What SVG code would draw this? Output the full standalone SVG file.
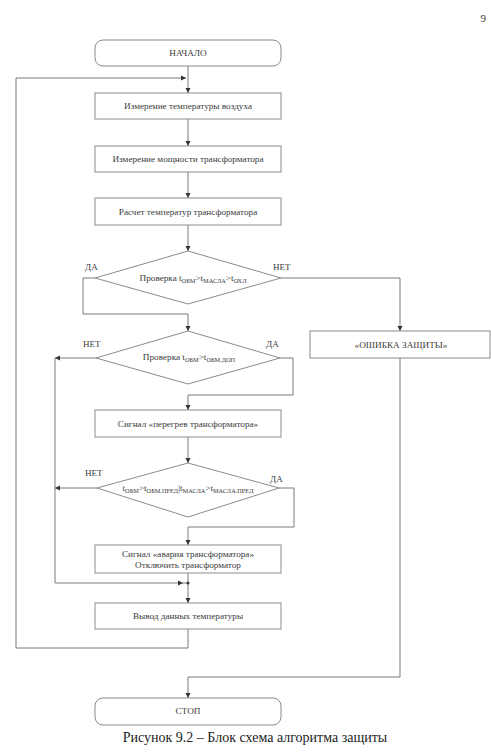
<svg xmlns="http://www.w3.org/2000/svg" width="491" height="753" viewBox="0 0 491 753">
<style>
.shape{fill:#fff;stroke:#8a8a8a;stroke-width:1}
.ln{fill:none;stroke:#7a7a7a;stroke-width:1}
.t{font-family:"Liberation Serif","Times New Roman",serif;font-size:9.2px;fill:#3a3a3a;text-anchor:middle}
.lbl{font-family:"Liberation Serif","Times New Roman",serif;font-size:9px;fill:#3a3a3a}
.s{font-size:6.3px}
</style>
<defs>
<marker id="ah" markerWidth="6" markerHeight="6" refX="5" refY="3" orient="auto" markerUnits="userSpaceOnUse">
<path d="M0,0.5 L5,3 L0,5.5 Z" fill="#333"/>
</marker>
</defs>
<rect width="491" height="753" fill="#fff"/>
<text x="486" y="22" class="lbl" style="font-size:11px;text-anchor:end">9</text>
<g id="connectors">
<line class="ln" x1="188" y1="66" x2="188" y2="93" marker-end="url(#ah)"/>
<line class="ln" x1="188" y1="119" x2="188" y2="146" marker-end="url(#ah)"/>
<line class="ln" x1="188" y1="172" x2="188" y2="198" marker-end="url(#ah)"/>
<line class="ln" x1="188" y1="225" x2="188" y2="251" marker-end="url(#ah)"/>
<polyline class="ln" points="95,278 83,278 83,314 188,314"/>
<line class="ln" x1="188" y1="314" x2="188" y2="331" marker-end="url(#ah)"/>
<polyline class="ln" points="281,278 400,278 400,331" marker-end="url(#ah)"/>
<polyline class="ln" points="400,358 400,677 188,677 188,698" marker-end="url(#ah)"/>
<polyline class="ln" points="280,358 293,358 293,395 188,395"/>
<line class="ln" x1="188" y1="395" x2="188" y2="410" marker-end="url(#ah)"/>
<line class="ln" x1="188" y1="437" x2="188" y2="463" marker-end="url(#ah)"/>
<polyline class="ln" points="279,488 294,488 294,527 188,527"/>
<line class="ln" x1="188" y1="527" x2="188" y2="545" marker-end="url(#ah)"/>
<line class="ln" x1="96" y1="358" x2="55" y2="358" marker-end="url(#ah)"/>
<line class="ln" x1="97" y1="488" x2="55" y2="488" marker-end="url(#ah)"/>
<line class="ln" x1="55" y1="358" x2="55" y2="583"/>
<line class="ln" x1="55" y1="583" x2="183" y2="583" marker-end="url(#ah)"/>
<line class="ln" x1="183" y1="583" x2="188" y2="583"/>
<line class="ln" x1="188" y1="573" x2="188" y2="603" marker-end="url(#ah)"/>
<circle cx="188" cy="583" r="1.5" fill="#333"/>
<polyline class="ln" points="188,629 188,648 16,648 16,78 186,78" marker-end="url(#ah)"/>
</g>
<g id="start">
<rect class="shape" x="95" y="40" width="186" height="26" rx="8"/>
<text class="t" x="188" y="56">НАЧАЛО</text>
</g>
<g id="measure-air">
<rect class="shape" x="95" y="93" width="186" height="26"/>
<text class="t" x="188" y="109">Измерение температуры воздуха</text>
</g>
<g id="measure-power">
<rect class="shape" x="95" y="146" width="186" height="26"/>
<text class="t" x="188" y="162">Измерение мощности трансформатора</text>
</g>
<g id="calc-temp">
<rect class="shape" x="95" y="198" width="186" height="27"/>
<text class="t" x="188" y="215">Расчет температур трансформатора</text>
</g>
<g id="check1">
<polygon class="shape" points="188,251 281,278 188,304 95,278"/>
<text class="t" x="193" y="281">Проверка t<tspan class="s" dy="2">ОБМ</tspan><tspan dy="-2">&gt;t</tspan><tspan class="s" dy="2">МАСЛА</tspan><tspan dy="-2">&gt;t</tspan><tspan class="s" dy="2">ОХЛ</tspan></text>
<text class="lbl" x="85" y="270">ДА</text>
<text class="lbl" x="273" y="270">НЕТ</text>
</g>
<g id="error">
<rect class="shape" x="310" y="331" width="180" height="27"/>
<text class="t" x="401" y="348">«ОШИБКА ЗАЩИТЫ»</text>
</g>
<g id="check2">
<polygon class="shape" points="188,331 280,358 188,384 96,358"/>
<text class="t" x="189" y="360">Проверка t<tspan class="s" dy="2">ОБМ</tspan><tspan dy="-2">&gt;t</tspan><tspan class="s" dy="2">ОБМ.ДОП</tspan></text>
<text class="lbl" x="83" y="347">НЕТ</text>
<text class="lbl" x="266" y="347">ДА</text>
</g>
<g id="overheat">
<rect class="shape" x="95" y="410" width="186" height="27"/>
<text class="t" x="188" y="427">Сигнал «перегрев трансформатора»</text>
</g>
<g id="check3">
<polygon class="shape" points="188,463 279,488 188,517 97,488"/>
<text class="t" x="188" y="491">t<tspan class="s" dy="2">ОБМ</tspan><tspan dy="-2">&gt;t</tspan><tspan class="s" dy="2">ОБМ.ПРЕД</tspan><tspan dy="-2">|t</tspan><tspan class="s" dy="2">МАСЛА</tspan><tspan dy="-2">&gt;t</tspan><tspan class="s" dy="2">МАСЛА.ПРЕД</tspan></text>
<text class="lbl" x="85" y="476">НЕТ</text>
<text class="lbl" x="270" y="482">ДА</text>
</g>
<g id="emergency">
<rect class="shape" x="95" y="545" width="186" height="28"/>
<text class="t" x="188" y="557">Сигнал «авария трансформатора»</text>
<text class="t" x="188" y="568">Отключить трансформатор</text>
</g>
<g id="output">
<rect class="shape" x="95" y="603" width="186" height="26"/>
<text class="t" x="188" y="619">Вывод данных температуры</text>
</g>
<g id="stop">
<rect class="shape" x="95" y="698" width="186" height="27" rx="8"/>
<text class="t" x="188" y="714">СТОП</text>
</g>
<text x="255" y="742" style="font-family:'Liberation Serif','Times New Roman',serif;font-size:14px;fill:#222;text-anchor:middle">Рисунок 9.2 – Блок схема алгоритма защиты</text>
</svg>
